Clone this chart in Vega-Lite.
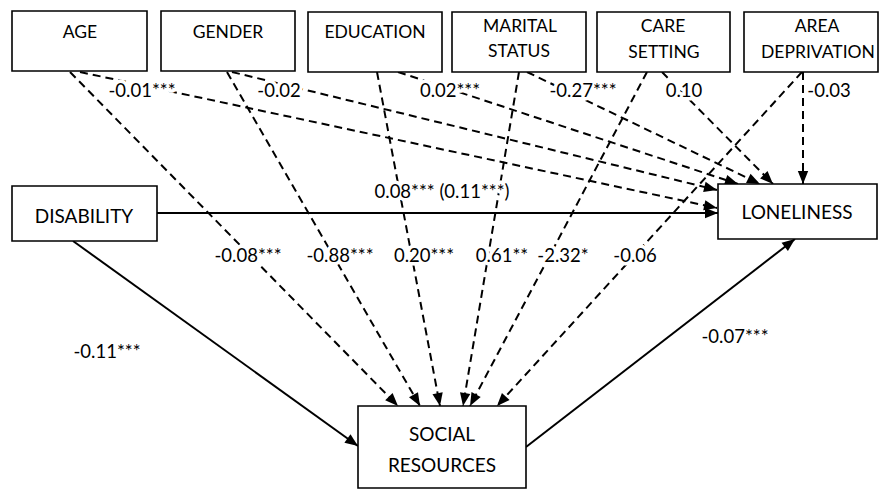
{
  "$schema": "https://vega.github.io/schema/vega-lite/v6.json",
  "width": 880,
  "height": 490,
  "padding": 0,
  "autosize": {"type": "fit", "contains": "padding"},
  "background": "white",
  "config": {"view": {"stroke": null}, "font": "Lato"},
  "datasets": {
    "nodes": [
      {"name": "AGE", "x1": 12, "x2": 147, "y1": 11, "y2": 71},
      {"name": "GENDER", "x1": 161, "x2": 295, "y1": 11, "y2": 71},
      {"name": "EDUCATION", "x1": 308, "x2": 442, "y1": 12, "y2": 72},
      {"name": "MARITAL STATUS", "x1": 452, "x2": 586, "y1": 12, "y2": 72},
      {"name": "CARE SETTING", "x1": 597, "x2": 730, "y1": 12, "y2": 72},
      {"name": "AREA DEPRIVATION", "x1": 744, "x2": 878, "y1": 12, "y2": 72},
      {"name": "DISABILITY", "x1": 12, "x2": 157, "y1": 186, "y2": 241},
      {"name": "LONELINESS", "x1": 718, "x2": 877, "y1": 184, "y2": 239},
      {"name": "SOCIAL RESOURCES", "x1": 358, "x2": 526, "y1": 406, "y2": 488}
    ],
    "edges": [
      {"from": "AGE", "to": "LONELINESS", "x": 80, "y": 72, "x2": 717, "y2": 208, "style": "dashed"},
      {"from": "GENDER", "to": "LONELINESS", "x": 232, "y": 72, "x2": 717, "y2": 190, "style": "dashed"},
      {"from": "EDUCATION", "to": "LONELINESS", "x": 398, "y": 72, "x2": 738, "y2": 184, "style": "dashed"},
      {"from": "MARITAL STATUS", "to": "LONELINESS", "x": 527, "y": 72, "x2": 760, "y2": 184, "style": "dashed"},
      {"from": "CARE SETTING", "to": "LONELINESS", "x": 662, "y": 72, "x2": 773, "y2": 184, "style": "dashed"},
      {"from": "AREA DEPRIVATION", "to": "LONELINESS", "x": 803, "y": 72, "x2": 803, "y2": 184, "style": "dashed"},
      {"from": "AGE", "to": "SOCIAL RESOURCES", "x": 70, "y": 72, "x2": 398, "y2": 406, "style": "dashed"},
      {"from": "GENDER", "to": "SOCIAL RESOURCES", "x": 227, "y": 72, "x2": 420, "y2": 406, "style": "dashed"},
      {"from": "EDUCATION", "to": "SOCIAL RESOURCES", "x": 377, "y": 72, "x2": 440, "y2": 406, "style": "dashed"},
      {"from": "MARITAL STATUS", "to": "SOCIAL RESOURCES", "x": 519, "y": 72, "x2": 463, "y2": 406, "style": "dashed"},
      {"from": "CARE SETTING", "to": "SOCIAL RESOURCES", "x": 647, "y": 72, "x2": 470, "y2": 406, "style": "dashed"},
      {"from": "AREA DEPRIVATION", "to": "SOCIAL RESOURCES", "x": 802, "y": 72, "x2": 497, "y2": 406, "style": "dashed"},
      {"from": "DISABILITY", "to": "LONELINESS", "x": 157, "y": 213, "x2": 718, "y2": 213, "style": "solid"},
      {"from": "DISABILITY", "to": "SOCIAL RESOURCES", "x": 73, "y": 241, "x2": 358, "y2": 446, "style": "solid"},
      {"from": "SOCIAL RESOURCES", "to": "LONELINESS", "x": 526, "y": 447, "x2": 795, "y2": 239, "style": "solid"}
    ],
    "nodeText": [
      {"t": "AGE", "x": 80, "y": 33, "row": "top"},
      {"t": "GENDER", "x": 228, "y": 33, "row": "top"},
      {"t": "EDUCATION", "x": 375, "y": 33, "row": "top"},
      {"t": "MARITAL", "x": 520, "y": 27, "row": "top"},
      {"t": "STATUS", "x": 519, "y": 52, "row": "top"},
      {"t": "CARE", "x": 663, "y": 27, "row": "top"},
      {"t": "SETTING", "x": 664, "y": 53, "row": "top"},
      {"t": "AREA", "x": 817, "y": 27, "row": "top"},
      {"t": "DEPRIVATION", "x": 818, "y": 53, "row": "top"},
      {"t": "DISABILITY", "x": 84, "y": 217, "row": "main"},
      {"t": "LONELINESS", "x": 797, "y": 213, "row": "main"},
      {"t": "SOCIAL", "x": 442, "y": 435, "row": "main"},
      {"t": "RESOURCES", "x": 442, "y": 466, "row": "main"}
    ],
    "coef": [
      {"t": "-0.01***", "x": 142, "y": 91},
      {"t": "-0.02", "x": 279, "y": 91},
      {"t": "0.02***", "x": 450, "y": 91},
      {"t": "-0.27***", "x": 583, "y": 91},
      {"t": "0.10", "x": 684, "y": 91},
      {"t": "-0.03", "x": 829, "y": 91},
      {"t": "0.08*** (0.11***)", "x": 442, "y": 192},
      {"t": "-0.08***", "x": 248, "y": 256},
      {"t": "-0.88***", "x": 340, "y": 256},
      {"t": "0.20***", "x": 424, "y": 256},
      {"t": "0.61**", "x": 502, "y": 256},
      {"t": "-2.32*", "x": 563, "y": 256},
      {"t": "-0.06", "x": 635, "y": 256},
      {"t": "-0.11***", "x": 107, "y": 352},
      {"t": "-0.07***", "x": 735, "y": 337}
    ]
  },
  "layer": [
    {
      "data": {"name": "edges"},
      "transform": [{"filter": "datum.style === 'dashed'"}],
      "mark": {"type": "rule", "color": "black", "strokeWidth": 2, "strokeDash": [8, 5]},
      "encoding": {
        "x": {"field": "x", "type": "quantitative", "scale": {"domain": [0, 880], "nice": false, "zero": false}, "axis": null},
        "y": {"field": "y", "type": "quantitative", "scale": {"domain": [0, 490], "nice": false, "zero": false, "reverse": true}, "axis": null},
        "x2": {"field": "x2"},
        "y2": {"field": "y2"}
      }
    },
    {
      "data": {"name": "edges"},
      "transform": [{"filter": "datum.style === 'solid'"}],
      "mark": {"type": "rule", "color": "black", "strokeWidth": 2},
      "encoding": {
        "x": {"field": "x", "type": "quantitative", "axis": null},
        "y": {"field": "y", "type": "quantitative", "axis": null},
        "x2": {"field": "x2"},
        "y2": {"field": "y2"}
      }
    },
    {
      "data": {"name": "edges"},
      "transform": [{"calculate": "atan2(datum.x2 - datum.x, -(datum.y2 - datum.y)) * 180 / PI", "as": "ang"}],
      "mark": {"type": "point", "shape": "M0,0 L-0.4,1 L0.4,1 Z", "filled": true, "color": "black", "opacity": 1, "size": 676},
      "encoding": {
        "x": {"field": "x2", "type": "quantitative", "axis": null},
        "y": {"field": "y2", "type": "quantitative", "axis": null},
        "angle": {"field": "ang", "type": "quantitative", "scale": null}
      }
    },
    {
      "data": {"name": "nodes"},
      "mark": {"type": "rect", "fill": "white", "stroke": "black", "strokeWidth": 1.6},
      "encoding": {
        "x": {"field": "x1", "type": "quantitative", "axis": null},
        "x2": {"field": "x2"},
        "y": {"field": "y1", "type": "quantitative", "axis": null},
        "y2": {"field": "y2"}
      }
    },
    {
      "data": {"name": "nodeText"},
      "transform": [{"filter": "datum.row === 'top'"}],
      "mark": {"type": "text", "font": "Lato", "fontSize": 17.5, "color": "black", "align": "center", "baseline": "middle"},
      "encoding": {
        "x": {"field": "x", "type": "quantitative", "axis": null},
        "y": {"field": "y", "type": "quantitative", "axis": null},
        "text": {"field": "t"}
      }
    },
    {
      "data": {"name": "nodeText"},
      "transform": [{"filter": "datum.row === 'main'"}],
      "mark": {"type": "text", "font": "Lato", "fontSize": 19, "color": "black", "align": "center", "baseline": "middle"},
      "encoding": {
        "x": {"field": "x", "type": "quantitative", "axis": null},
        "y": {"field": "y", "type": "quantitative", "axis": null},
        "text": {"field": "t"}
      }
    },
    {
      "data": {"name": "coef"},
      "mark": {"type": "text", "font": "Lato", "fontSize": 18.5, "fill": "white", "stroke": "white", "strokeWidth": 7, "strokeJoin": "round", "align": "center", "baseline": "middle"},
      "encoding": {
        "x": {"field": "x", "type": "quantitative", "axis": null},
        "y": {"field": "y", "type": "quantitative", "axis": null},
        "text": {"field": "t"}
      }
    },
    {
      "data": {"name": "coef"},
      "mark": {"type": "text", "font": "Lato", "fontSize": 18.5, "color": "black", "align": "center", "baseline": "middle"},
      "encoding": {
        "x": {"field": "x", "type": "quantitative", "axis": null},
        "y": {"field": "y", "type": "quantitative", "axis": null},
        "text": {"field": "t"}
      }
    }
  ]
}
